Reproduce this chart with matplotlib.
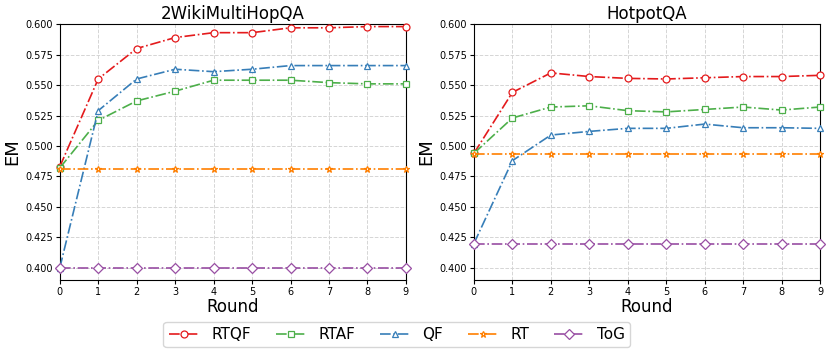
import matplotlib.pyplot as plt
import numpy as np

# Rounds
rounds = np.arange(10)

# 2WikiMultiHopQA
wiki_rtqf = [0.483, 0.555, 0.580, 0.589, 0.593, 0.593, 0.597, 0.597, 0.598, 0.598]
wiki_rtaf = [0.482, 0.521, 0.537, 0.545, 0.554, 0.554, 0.554, 0.552, 0.551, 0.551]
wiki_qf = [0.400, 0.529, 0.555, 0.563, 0.561, 0.563, 0.566, 0.566, 0.566, 0.566]
wiki_rt = [0.481] * 10
wiki_tog = [0.400] * 10

# HotpotQA
hot_rtqf = [0.494, 0.544, 0.560, 0.557, 0.5555, 0.555, 0.556, 0.557, 0.557, 0.558]
hot_rtaf = [0.494, 0.523, 0.532, 0.533, 0.529, 0.528, 0.530, 0.532, 0.5295, 0.532]
hot_qf = [0.420, 0.488, 0.509, 0.512, 0.5145, 0.5145, 0.518, 0.515, 0.515, 0.5145]
hot_rt = [0.4937] * 10
hot_tog = [0.420] * 10

names = ['RTQF', 'RTAF', 'QF', 'RT', 'ToG']
colors = ['#e41a1c', '#4daf4a', '#377eb8', '#ff7f00', '#984ea3']
markers = ['o', 's', '^', '*', 'D']
msizes = [5, 5, 5, 5, 5.5]

panels = [
    ('2WikiMultiHopQA', [wiki_rtqf, wiki_rtaf, wiki_qf, wiki_rt, wiki_tog]),
    ('HotpotQA', [hot_rtqf, hot_rtaf, hot_qf, hot_rt, hot_tog]),
]

fig = plt.figure(figsize=(8.3, 3.55), dpi=100)
ax1 = fig.add_axes([0.072, 0.211, 0.417, 0.721])
ax2 = fig.add_axes([0.571, 0.211, 0.417, 0.721])

for ax, (title, series) in zip([ax1, ax2], panels):
    for vals, name, c, m, ms in zip(series, names, colors, markers, msizes):
        ax.plot(rounds, vals, linestyle='-.', color=c, marker=m, markersize=ms,
                markerfacecolor='white', markeredgecolor=c, markeredgewidth=0.9,
                linewidth=1.2, label=name, clip_on=False, zorder=3)
    ax.set_title(title, fontsize=12, pad=4)
    ax.set_xlabel('Round', fontsize=12, labelpad=1)
    ax.set_ylabel('EM', fontsize=13, labelpad=3)
    ax.set_xlim(0, 9)
    ax.set_ylim(0.39, 0.60)
    ax.set_xticks(rounds)
    ax.set_yticks(np.arange(0.400, 0.6001, 0.025))
    ax.yaxis.set_major_formatter(plt.FormatStrFormatter('%.3f'))
    ax.tick_params(labelsize=7, length=3, pad=2)
    ax.grid(True, linestyle='--', color='#d5d5d5', linewidth=0.7)

handles, labels = ax1.get_legend_handles_labels()
fig.legend(handles, labels, loc='center', bbox_to_anchor=(0.478, 0.058), ncol=5,
           fontsize=11, frameon=True, handlelength=2.0, columnspacing=1.6,
           handletextpad=0.8, borderpad=0.35)

plt.savefig('out.png', dpi=100)
